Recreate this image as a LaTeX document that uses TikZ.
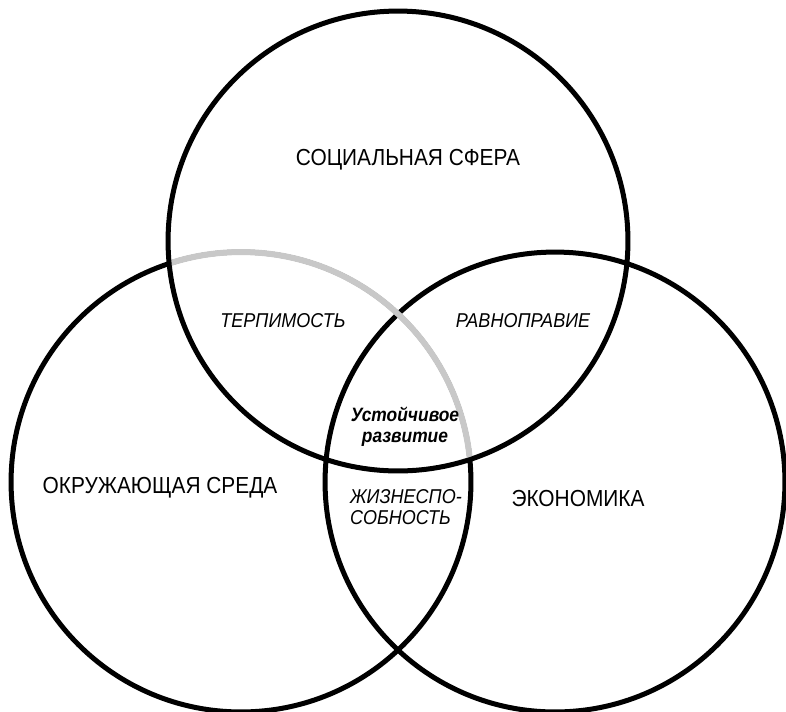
\documentclass[tikz,border=0pt]{standalone}
\usepackage{fontspec}
\setmainfont{Liberation Sans}
\newfontfamily\narrowfont[FakeStretch=0.9]{Liberation Sans}
\definecolor{lg}{RGB}{200,200,200}
\tikzset{
    ring/.style =   {circle,
                    draw=black,
                    line width=2.85pt,
                    inner sep=0pt,
                    minimum size=9.2cm},
    big/.style =    {font=\narrowfont\fontsize{13.2}{15}\selectfont,
                    text=black},
    small/.style =  {font=\narrowfont\fontsize{11.4}{11.6}\selectfont\itshape,
                    text=black,
                    align=center},
    core/.style =   {font=\narrowfont\fontsize{11}{12}\selectfont\bfseries\itshape,
                    text=black,
                    align=center}}
\begin{document}
\begin{tikzpicture}[x=0.02cm,y=-0.02cm]
                    \useasboundingbox (0,0) rectangle (786,711);
                    \node[ring]      (env) at (241,482)  {};
                    \node[ring]      (eco) at (555,482)  {};
                    \node[ring]      (soc) at (398,241)  {};
                    \begin{scope}
                        \clip (soc.center) circle (4.6cm-1.4pt);
                        \draw [lg, line width=3.4pt] (env.center) circle (4.6cm);
                    \end{scope}
                    \node[big]       (socl) at (408,160) {СОЦИАЛЬНАЯ СФЕРА};
                    \node[big]       (envl) at (160,488) {ОКРУЖАЮЩАЯ СРЕДА};
                    \node[big]       (ecol) at (578,499) {ЭКОНОМИКА};
                    \node[small]     (tol)  at (283,321) {ТЕРПИМОСТЬ};
                    \node[small]     (eq)   at (523,321) {РАВНОПРАВИЕ};
                    \node[small,align=left] (viab) at (406,507) {ЖИЗНЕСПО-\\СОБНОСТЬ};
                    \node[core]      (sus)  at (405,427) {Устойчивое\\развитие};
        \end{tikzpicture}
\end{document}
